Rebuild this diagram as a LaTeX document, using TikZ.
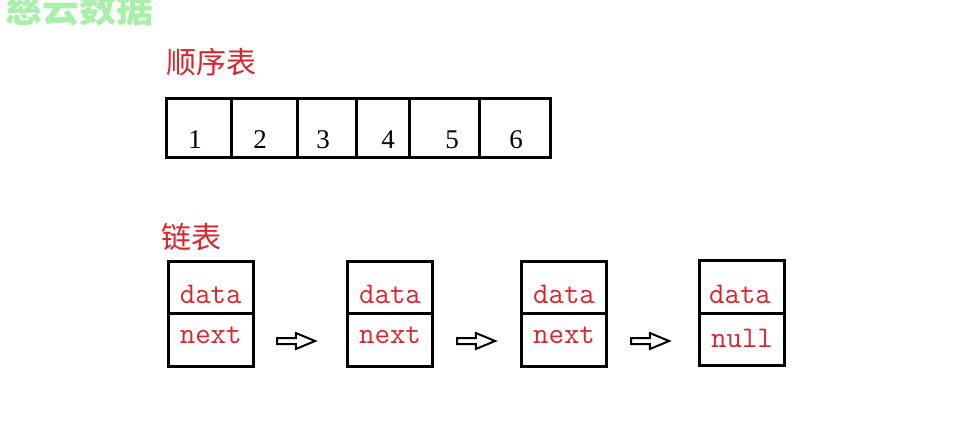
\documentclass[tikz,border=0pt]{standalone}
\usepackage{fontspec}
\setmainfont{Liberation Serif}
\newfontfamily\cjk{Noto Sans CJK SC}
\usepackage{xcolor}
\usetikzlibrary{shapes.arrows}
\definecolor{lblred}{RGB}{218,37,44}
\definecolor{wmgreen}{RGB}{168,240,168}

\begin{document}
\begin{tikzpicture}[x=1pt, y=-1pt,
  heading/.style={font=\cjk\fontsize{30}{30}\selectfont, text=lblred, anchor=base west, inner sep=0pt},
  frame/.style={black, line width=3pt},
  cell/.style={draw, line width=3pt, minimum width=85pt, inner sep=0pt, outer sep=0pt},
  digit/.style={font=\fontsize{27}{27}\selectfont, anchor=base, inner sep=0pt},
  field/.style={font=\ttfamily\fontsize{30}{30}\selectfont, text=lblred, anchor=base, inner sep=0pt},
  pointer/.style={single arrow, draw, line width=2pt, minimum height=38pt,
    inner xsep=0pt, inner ysep=2pt, text height=0pt, text depth=0pt,
    single arrow head extend=5pt, single arrow tip angle=45}]
  \useasboundingbox (0,0) rectangle (966,440);
  % watermark, cut at the top
  \node[font=\cjk\bfseries\fontsize{37}{37}\selectfont, text=wmgreen, anchor=base west, inner sep=0pt] (mark) at (5,22) {慈云数据};
  % Sequence table
  \node[heading] (seqtitle) at (166,73) {顺序表};
  \draw[frame] (166,98) rectangle (550,157);
  \foreach \x in {231,297,356,409,479}
    \draw[frame] (\x,98) -- (\x,157);
  \foreach \n/\x in {1/195,2/260,3/323,4/388,5/452,6/516}
    \node[digit] (item\n) at (\x,148) {\n};
  % Linked list
  \node[heading] (listtitle) at (161,248) {链表};
  \foreach \i/\x in {1/210.7,2/390,3/564} {
    \node[cell, minimum height=52pt] (data\i) at (\x,287.4) {};
    \node[cell, minimum height=53.5pt, anchor=north] (next\i) at (data\i.south) {};
    \node[field] (dlab\i) at (\x,303) {data};
    \node[field] (nlab\i) at (\x,343) {next};
  }
  \node[cell, minimum height=52.7pt] (data4) at (741.5,286.7) {};
  \node[cell, minimum height=52.3pt, anchor=north] (next4) at (data4.south) {};
  \node[field] (dlab4) at (740,303) {data};
  \node[field] (nlab4) at (742,347) {null};
  % Pointers between the nodes
  \foreach \i/\x in {1/292.5,2/472.5,3/646.5}
    \node[pointer] (arrow\i) at (\x,341) {};
\end{tikzpicture}
\end{document}
